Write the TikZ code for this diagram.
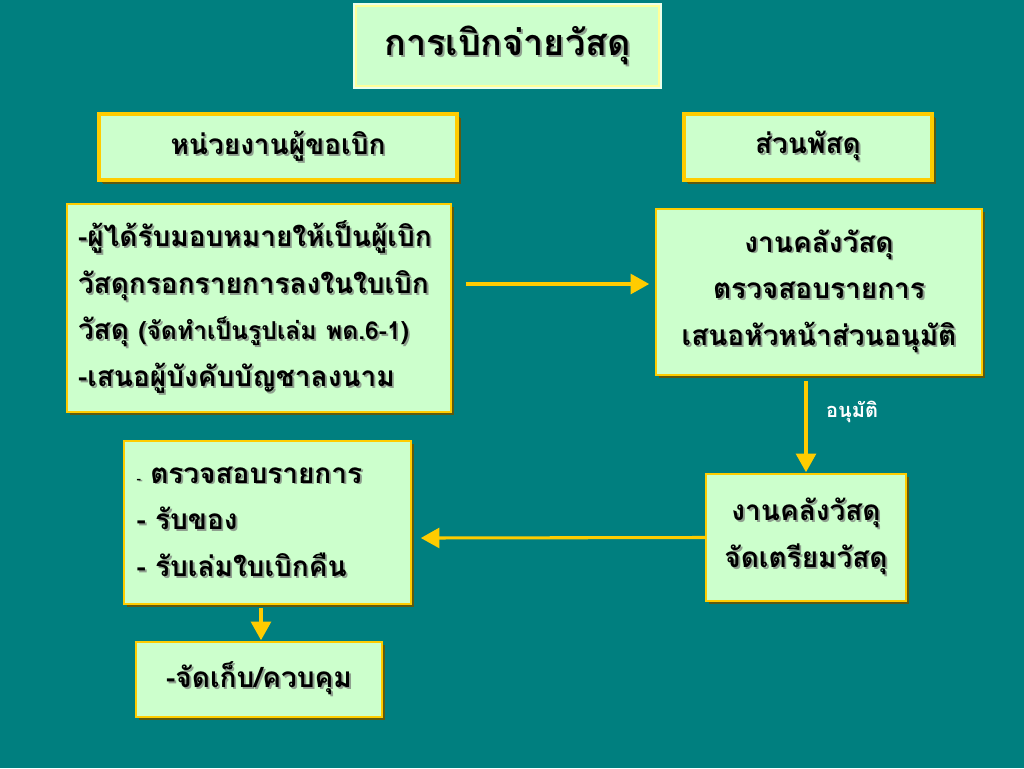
\documentclass[tikz,border=0pt]{standalone}
\usepackage{fontspec}
\newfontfamily\thai[Script=Thai]{Loma}
\usetikzlibrary{shadows,arrows.meta,calc}
\definecolor{bg}{HTML}{007F7F}
\definecolor{boxfill}{HTML}{CCFFCC}
\definecolor{gold}{HTML}{FFCC00}
\definecolor{paleyel}{HTML}{FFFF99}
\definecolor{shade}{HTML}{5E5A10}
\definecolor{tshadow}{HTML}{8FA08F}
\newcommand\sh[1]{\leavevmode\rlap{\hspace{1.4pt}\raisebox{-1.4pt}{\textcolor{tshadow}{#1}}}#1}
\begin{document}
\begin{tikzpicture}[x=0.75pt,y=-0.75pt,
  box/.style={draw=gold, line width=1.2pt, fill=boxfill, inner sep=0pt,
    drop shadow={shadow xshift=2.6pt, shadow yshift=-2.6pt, fill=shade, opacity=1},
    font=\thai\bfseries\fontsize{21}{35}\selectfont},
  headbox/.style={box, line width=3pt,
    drop shadow={shadow xshift=3.2pt, shadow yshift=-3.2pt, fill=shade, opacity=1}},
  titlebox/.style={draw=paleyel, line width=2.2pt, fill=boxfill, inner sep=0pt,
    preaction={draw=white!60!boxfill, line width=4pt},
    font=\thai\bfseries\fontsize{27}{32}\selectfont},
  arr/.style={draw=gold, line width=2.3pt, -{Triangle[length=14pt,width=15pt]}},
  lbl/.style={text=white, font=\thai\bfseries\fontsize{15}{17}\selectfont, inner sep=0pt}
]
\fill[bg] (0,0) rectangle (1024,768);
\useasboundingbox (0,0) rectangle (1024,768);

\node[titlebox, minimum width={303*0.75pt}, minimum height={80*0.75pt}] (title) at (507.5,46) {\sh{การเบิกจ่ายวัสดุ}};

\node[headbox, minimum width={358*0.75pt}, minimum height={66*0.75pt}] (hl) at (278,147) {\sh{หน่วยงานผู้ขอเบิก}};
\node[headbox, minimum width={248*0.75pt}, minimum height={66*0.75pt}] (hr) at (808,147) {\sh{ส่วนพัสดุ}};

\node[box, minimum width={384*0.75pt}, minimum height={208*0.75pt}, text width={362*0.75pt}, align=left] (a) at (259,308)
 {\sh{-ผู้ได้รับมอบหมายให้เป็นผู้เบิก}\\
  \sh{วัสดุกรอกรายการลงในใบเบิก}\\
  \sh{วัสดุ {\fontsize{18.5}{35}\selectfont (จัดทำเป็นรูปเล่ม พด.6-1)}}\\
  \sh{-เสนอผู้บังคับบัญชาลงนาม}};

\node[box, minimum width={326*0.75pt}, minimum height={166*0.75pt}, align=center] (b) at (819,292)
 {\sh{งานคลังวัสดุ}\\ \sh{ตรวจสอบรายการ}\\ \sh{เสนอหัวหน้าส่วนอนุมัติ}};

\node[box, minimum width={200*0.75pt}, minimum height={127*0.75pt}, align=center] (c) at (806,537.5)
 {\sh{งานคลังวัสดุ}\\ \sh{จัดเตรียมวัสดุ}};

\node[box, minimum width={287*0.75pt}, minimum height={163*0.75pt}, text width={262*0.75pt}, align=left] (d) at (267.5,522.5)
 {\sh{{\fontsize{10}{35}\selectfont -} ตรวจสอบรายการ}\\ \sh{- รับของ}\\ \sh{- รับเล่มใบเบิกคืน}};

\node[box, minimum width={246*0.75pt}, minimum height={75*0.75pt}] (e) at (259,679.5)
 {\sh{-จัดเก็บ/ควบคุม}};

\draw[arr] ($(a.east)+(14,-24)$) -- ($(b.west)+(-6,-8)$);
\draw[arr] ($(c.north |- b.south)+(0,5)$) -- node[lbl, pos=0.34, anchor=west, xshift=14pt] (ok) {อนุมัติ} ($(c.north)+(0,-1)$);
\draw[arr] (c.west) -- ($(d.east)+(9,15.5)$);
\draw[arr] ($(e.north |- d.south)+(2,3)$) -- ($(e.north)+(2,-1)$);
\end{tikzpicture}
\end{document}
